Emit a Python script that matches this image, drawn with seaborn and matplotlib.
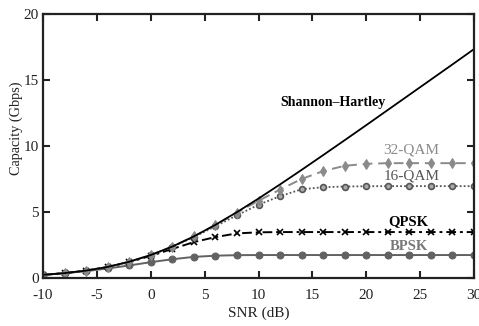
import matplotlib
matplotlib.use("Agg")
import matplotlib.pyplot as plt
import seaborn as sns

snr = [-10, -8, -6, -4, -2, 0, 2, 4, 6, 8, 10, 12, 14, 16, 18, 20, 22, 24, 26, 28, 30]
shannon = [0.24, 0.37, 0.56, 0.84, 1.23, 1.74, 2.38, 3.15, 4.03, 4.99, 6.02, 7.09, 8.19,
           9.31, 10.44, 11.58, 12.73, 13.88, 15.03, 16.18, 17.34]
qam32 = [0.24, 0.37, 0.56, 0.84, 1.23, 1.74, 2.38, 3.15, 4.0, 4.95, 5.85, 6.7, 7.5,
         8.1, 8.5, 8.65, 8.7, 8.7, 8.7, 8.7, 8.7]
qam16 = [0.24, 0.37, 0.56, 0.84, 1.23, 1.74, 2.36, 3.1, 3.92, 4.75, 5.55, 6.2, 6.72,
         6.88, 6.93, 6.95, 6.96, 6.96, 6.96, 6.96, 6.96]
qpsk = [0.24, 0.37, 0.56, 0.83, 1.2, 1.68, 2.2, 2.72, 3.1, 3.38, 3.46, 3.48, 3.48,
        3.48, 3.48, 3.48, 3.48, 3.48, 3.48, 3.48, 3.48]
bpsk = [0.24, 0.36, 0.52, 0.72, 0.95, 1.2, 1.42, 1.6, 1.69, 1.73, 1.74, 1.74, 1.74,
        1.74, 1.74, 1.74, 1.74, 1.74, 1.74, 1.74, 1.74]
xticks = [-10, -5, 0, 5, 10, 15, 20, 25, 30]
yticks = [0, 5, 10, 15, 20]

sns.set_theme(style="ticks")
plt.rcParams['font.family'] = ['Liberation Serif', 'DejaVu Serif']
plt.rcParams['axes.unicode_minus'] = False

fig = plt.figure(figsize=(4.79, 3.26), dpi=100)
ax = fig.add_axes([43/479, 48/326, (474-43)/479, (278-14)/326])

sns.lineplot(x=snr, y=bpsk, ax=ax, color="#626262", lw=1.4, marker="o",
             markersize=5, markeredgecolor="#626262", markerfacecolor="#626262")
sns.lineplot(x=snr, y=qpsk, ax=ax, color="black", lw=1.4, marker="x",
             markersize=4, markeredgewidth=1.2, markeredgecolor="black",
             linestyle=(0, (5, 2, 1.5, 2)))
sns.lineplot(x=snr, y=qam16, ax=ax, color="#555555", lw=1.3, marker="o",
             markersize=4.2, markeredgecolor="#555555", markerfacecolor="#aaaaaa",
             markeredgewidth=1.2, linestyle=(0, (1, 1.2)))
sns.lineplot(x=snr, y=qam32, ax=ax, color="#8a8a8a", lw=1.4, marker="d",
             markersize=5.5, markeredgecolor="#8a8a8a", markerfacecolor="#8a8a8a",
             linestyle=(0, (5, 3)))
sns.lineplot(x=snr, y=shannon, ax=ax, color="black", lw=1.3)

ax.set_xlim(-10, 30)
ax.set_ylim(0, 20)
ax.set_xticks(xticks)
ax.set_yticks(yticks)
ax.set_xlabel("SNR (dB)", fontsize=11, labelpad=3, color="#222222")
ax.set_ylabel("Capacity (Gbps)", fontsize=10.3, labelpad=2, color="#222222")
ax.yaxis.set_label_coords(-0.047, 0.568)
ax.tick_params(direction="in", length=5, width=1.5, labelsize=11, top=True, right=True,
               colors="#222222", labelcolor="#222222")
ax.tick_params(axis="x", pad=8)
ax.tick_params(axis="y", pad=3)
for s in ax.spines.values():
    s.set_visible(True)
    s.set_linewidth(1.6)
    s.set_color("#222222")

ax.text(16.9, 13.3, "Shannon\u2013Hartley", fontsize=10, fontweight="bold",
        color="black", ha="center", va="center")
ax.text(24.15, 9.7, "32-QAM", fontsize=11, color="#8a8a8a", ha="center", va="center")
ax.text(24.25, 7.73, "16-QAM", fontsize=11, color="#555555", ha="center", va="center")
ax.text(23.9, 4.24, "QPSK", fontsize=10.5, fontweight="bold", color="black",
        ha="center", va="center")
ax.text(24.0, 2.35, "BPSK", fontsize=10.5, fontweight="bold", color="#777777",
        ha="center", va="center")

fig.savefig("out.png", dpi=100)
